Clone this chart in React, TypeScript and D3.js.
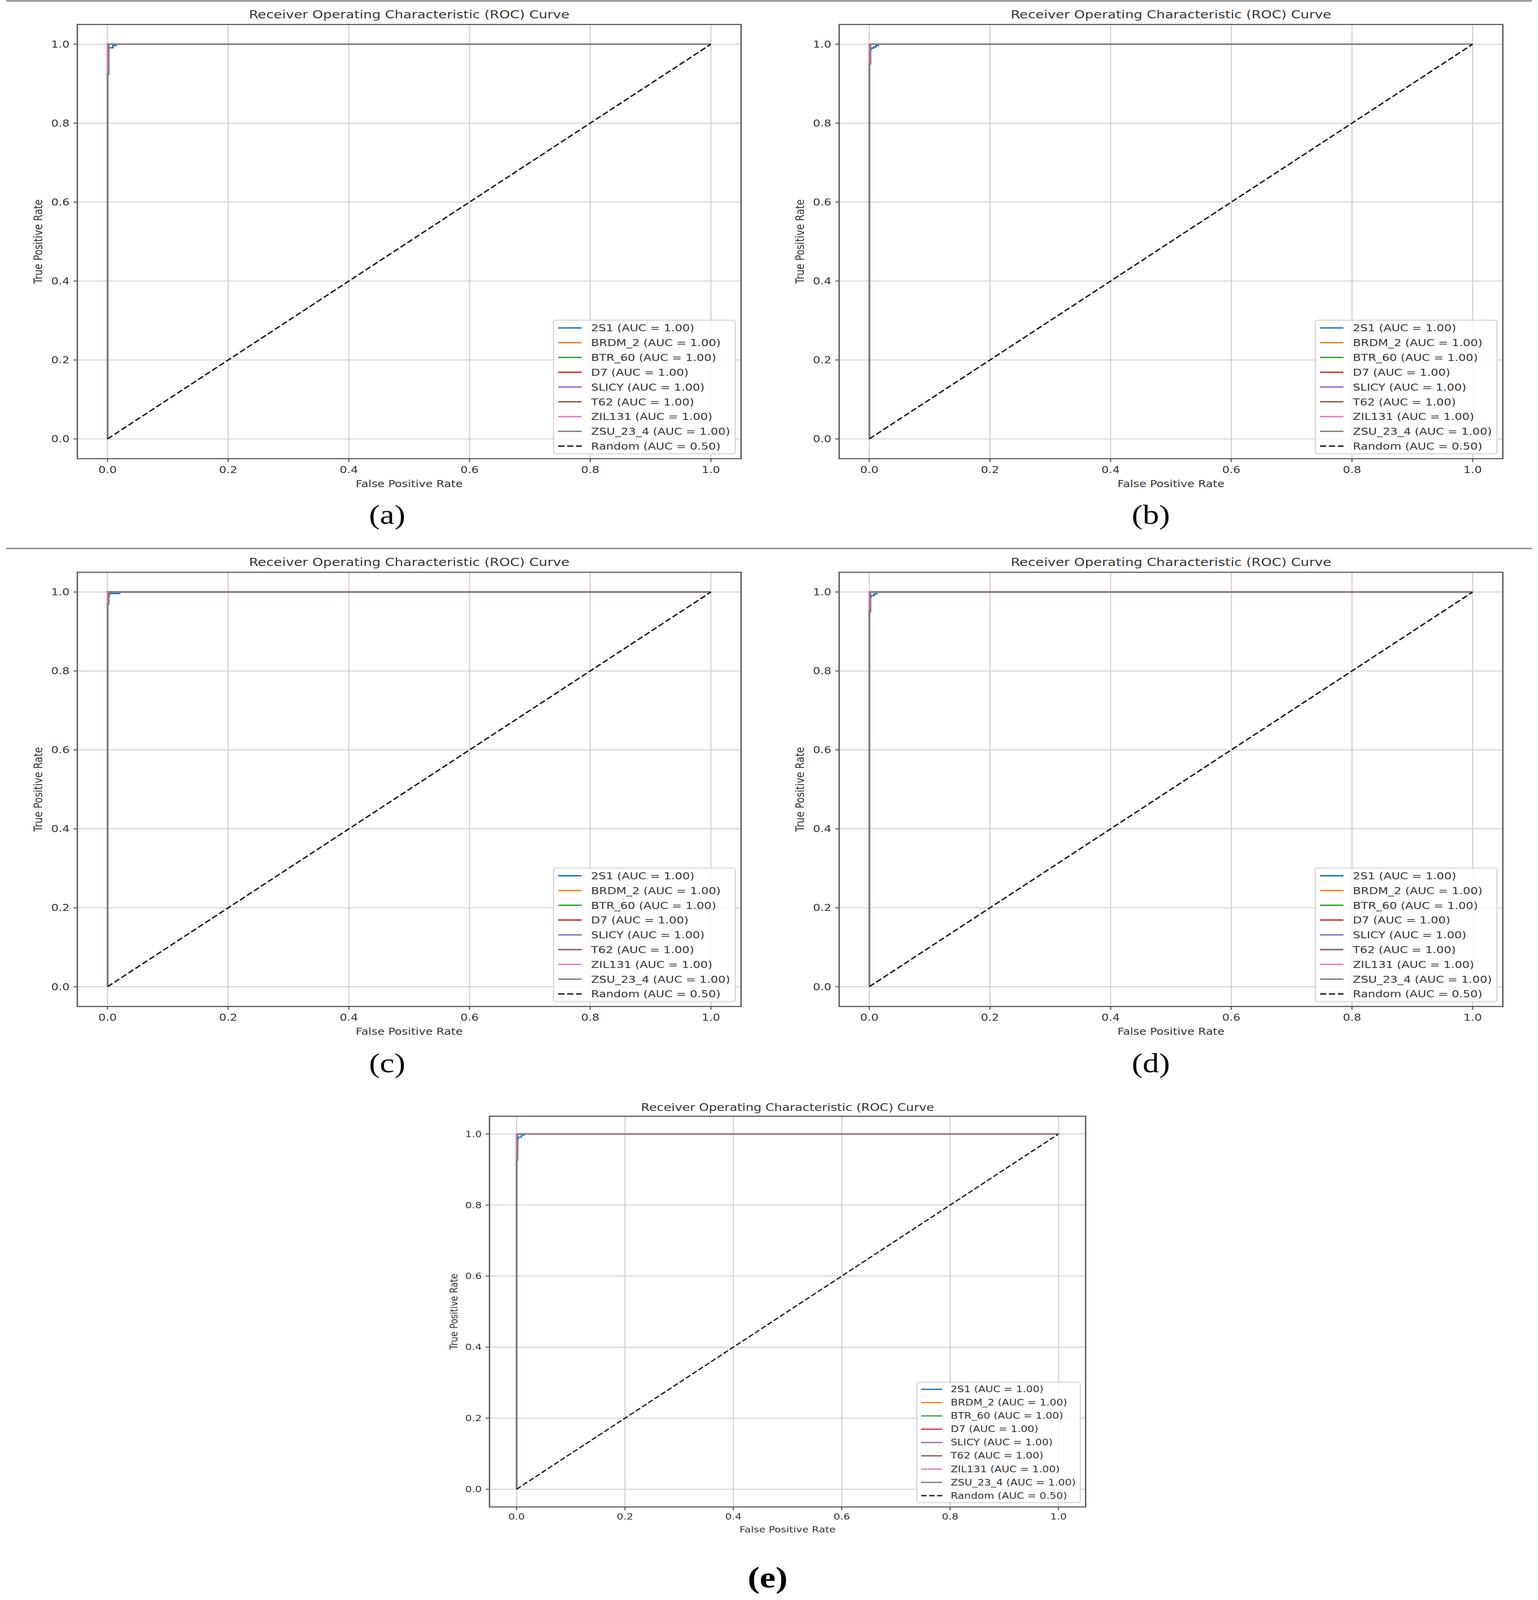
import React from "react";
import * as d3 from "d3";

// ---------- data ----------
const CLASSES = ["2S1", "BRDM_2", "BTR_60", "D7", "SLICY", "T62", "ZIL131", "ZSU_23_4"];
const COLORS = ["#1f77b4", "#ff7f0e", "#2ca02c", "#d62728", "#9467bd", "#8c564b", "#e377c2", "#7f7f7f"];
const AUC = ["1.00", "1.00", "1.00", "1.00", "1.00", "1.00", "1.00", "1.00"];
const RANDOM_NAME = "Random";
const RANDOM_AUC = "0.50";
const RANDOM_FPR = [0, 1];
const RANDOM_TPR = [0, 1];
const TICK_VALUES = [0, 0.2, 0.4, 0.6, 0.8, 1.0];
const TICK_LABELS = ["0.0", "0.2", "0.4", "0.6", "0.8", "1.0"];
const TITLE = "Receiver Operating Characteristic (ROC) Curve";
const X_LABEL = "False Positive Rate";
const Y_LABEL = "True Positive Rate";
const PANEL_LABELS = ["(a)", "(b)", "(c)", "(d)", "(e)"];

const P_FPR = [0, 0, 1];
const P_TPR = [0, 1, 1];

// panel (a)
const FPR_A = [
  [0, 0, 0.002, 0.002, 0.009, 0.009, 0.014, 0.014, 1],
  P_FPR, P_FPR, P_FPR, P_FPR, P_FPR, P_FPR,
  [0, 0, 0.002, 0.002, 1],
];
const TPR_A = [
  [0, 0.984, 0.984, 0.991, 0.991, 0.997, 0.997, 1, 1],
  P_TPR, P_TPR, P_TPR, P_TPR, P_TPR, P_TPR,
  [0, 0.924, 0.924, 1, 1],
];
// panel (b)
const FPR_B = [
  [0, 0, 0.003, 0.003, 0.007, 0.007, 0.011, 0.011, 0.015, 0.015, 1],
  P_FPR, P_FPR, P_FPR, P_FPR, P_FPR, P_FPR,
  [0, 0, 0.002, 0.002, 1],
];
const TPR_B = [
  [0, 0.986, 0.986, 0.99, 0.99, 0.993, 0.993, 0.997, 0.997, 1, 1],
  P_TPR, P_TPR, P_TPR, P_TPR, P_TPR, P_TPR,
  [0, 0.95, 0.95, 1, 1],
];
// panel (c)
const FPR_C = [
  [0, 0, 0.003, 0.003, 0.02, 0.02, 1],
  P_FPR, P_FPR, P_FPR, P_FPR, P_FPR, P_FPR,
  [0, 0, 0.002, 0.002, 1],
];
const TPR_C = [
  [0, 0.989, 0.989, 0.996, 0.996, 1, 1],
  P_TPR, P_TPR, P_TPR, P_TPR, P_TPR, P_TPR,
  [0, 0.97, 0.97, 1, 1],
];
// panel (d)
const FPR_D = [
  [0, 0, 0.003, 0.003, 0.008, 0.008, 0.012, 0.012, 1],
  P_FPR, P_FPR, P_FPR, P_FPR, P_FPR, P_FPR,
  [0, 0, 0.002, 0.002, 1],
];
const TPR_D = [
  [0, 0.987, 0.987, 0.991, 0.991, 0.995, 0.995, 1, 1],
  P_TPR, P_TPR, P_TPR, P_TPR, P_TPR, P_TPR,
  [0, 0.95, 0.95, 1, 1],
];
// panel (e)
const FPR_E = [
  [0, 0, 0.003, 0.003, 0.009, 0.009, 0.014, 0.014, 1],
  P_FPR, P_FPR, P_FPR, P_FPR, P_FPR, P_FPR,
  [0, 0, 0.002, 0.002, 1],
];
const TPR_E = [
  [0, 0.985, 0.985, 0.991, 0.991, 0.997, 0.997, 1, 1],
  P_TPR, P_TPR, P_TPR, P_TPR, P_TPR, P_TPR,
  [0, 0.927, 0.927, 1, 1],
];

// ---------- layout ----------
type Layout = {
  left: number; top: number; w: number; h: number;
  fs: number; lfs: number; tfs: number;
  xTickOff: number; xLabOff: number; yLabOff: number; titleOff: number;
  capX: number; capY: number; capSize: number; capBold: boolean;
};

const LAYOUTS: Layout[] = [
  { left: 198, top: 76, w: 1699, h: 1349, fs: 29.5, lfs: 30, tfs: 35, xTickOff: 34, xLabOff: 78, yLabOff: 100, titleOff: 19, capX: 991, capY: 1627, capSize: 84, capBold: false },
  { left: 2148, top: 76, w: 1699, h: 1349, fs: 29.5, lfs: 30, tfs: 35, xTickOff: 34, xLabOff: 78, yLabOff: 100, titleOff: 19, capX: 2946, capY: 1627, capSize: 84, capBold: false },
  { left: 198, top: 1778, w: 1699, h: 1349, fs: 29.5, lfs: 30, tfs: 35, xTickOff: 34, xLabOff: 78, yLabOff: 100, titleOff: 19, capX: 991, capY: 3331, capSize: 84, capBold: false },
  { left: 2148, top: 1778, w: 1699, h: 1349, fs: 29.5, lfs: 30, tfs: 35, xTickOff: 34, xLabOff: 78, yLabOff: 100, titleOff: 19, capX: 2946, capY: 3331, capSize: 84, capBold: false },
  { left: 1253, top: 3468, w: 1526, h: 1214, fs: 26.5, lfs: 27, tfs: 32, xTickOff: 30, xLabOff: 70, yLabOff: 91, titleOff: 17, capX: 1965, capY: 4932, capSize: 92, capBold: true },
];

const PANEL_FPR = [FPR_A, FPR_B, FPR_C, FPR_D, FPR_E];
const PANEL_TPR = [TPR_A, TPR_B, TPR_C, TPR_D, TPR_E];

const TEXT = "#353535";
const SPINE = "#5a5a5a";
const GRID = "#d2d2d2";
const SANS = "'DejaVu Sans', sans-serif";
const SERIF = "'Liberation Serif', 'Times New Roman', serif";

function Panel({ L, fpr, tpr, idx }: { L: Layout; fpr: number[][]; tpr: number[][]; idx: number }) {
  const x = d3.scaleLinear().domain([-0.05, 1.05]).range([L.left, L.left + L.w]);
  const y = d3.scaleLinear().domain([-0.05, 1.05]).range([L.top + L.h, L.top]);
  const line = d3.line<[number, number]>().x((d) => x(d[0])).y((d) => y(d[1]));
  const lw = L.fs * 0.145;
  const bottom = L.top + L.h;
  const right = L.left + L.w;
  const clipId = `clip-${idx}`;

  // legend geometry (matplotlib-like, in font units)
  const fs = L.lfs;
  const labels = CLASSES.map((c, i) => `${c} (AUC = ${AUC[i]})`).concat([`${RANDOM_NAME} (AUC = ${RANDOM_AUC})`]);
  const longest = d3.max(labels, (s) => s.length) ?? 21;
  const textW = (longest / 21) * 11.9 * fs;
  const boxW = fs * (0.4 + 2 + 0.8 + 0.4) + textW;
  const rowH = 1.53 * fs;
  const boxH = 1.6 * fs + rowH * (labels.length - 1);
  const boxR = right - 0.5 * fs;
  const boxB = bottom - 0.5 * fs;
  const boxL = boxR - boxW;
  const boxT = boxB - boxH;

  const dash = `${fs * 0.53} ${fs * 0.23}`;

  return (
    <g>
      <defs>
        <clipPath id={clipId}>
          <rect x={L.left} y={L.top} width={L.w} height={L.h} />
        </clipPath>
      </defs>
      {/* title */}
      <text x={(L.left + right) / 2} y={L.top - L.titleOff} textAnchor="middle" fontFamily={SANS} fontSize={L.tfs} fill={TEXT}>
        {TITLE}
      </text>
      {/* grid */}
      {TICK_VALUES.map((t) => (
        <line key={`gx${t}`} x1={x(t)} x2={x(t)} y1={L.top} y2={bottom} stroke={GRID} strokeWidth={3} />
      ))}
      {TICK_VALUES.map((t) => (
        <line key={`gy${t}`} x1={L.left} x2={right} y1={y(t)} y2={y(t)} stroke={GRID} strokeWidth={3} />
      ))}
      {/* curves */}
      <g clipPath={`url(#${clipId})`}>
        {CLASSES.map((c, i) => {
          const pts = fpr[i].map((f, k) => [f, tpr[i][k]] as [number, number]);
          return <path key={c} d={line(pts) ?? ""} fill="none" stroke={COLORS[i]} strokeWidth={lw} strokeLinejoin="miter" />;
        })}
        <path
          d={line(RANDOM_FPR.map((f, k) => [f, RANDOM_TPR[k]] as [number, number])) ?? ""}
          fill="none"
          stroke="#1a1a1a"
          strokeWidth={lw * 0.95}
          strokeDasharray={dash}
        />
      </g>
      {/* spines */}
      <rect x={L.left} y={L.top} width={L.w} height={L.h} fill="none" stroke={SPINE} strokeWidth={3.5} />
      {/* ticks */}
      {TICK_VALUES.map((t, i) => (
        <g key={`tx${t}`}>
          <line x1={x(t)} x2={x(t)} y1={bottom} y2={bottom + 10} stroke={SPINE} strokeWidth={3} />
          <text x={x(t)} y={bottom + L.xTickOff} textAnchor="middle" dominantBaseline="central" fontFamily={SANS} fontSize={L.fs} fill={TEXT}>
            {TICK_LABELS[i]}
          </text>
        </g>
      ))}
      {TICK_VALUES.map((t, i) => (
        <g key={`ty${t}`}>
          <line x1={L.left - 10} x2={L.left} y1={y(t)} y2={y(t)} stroke={SPINE} strokeWidth={3} />
          <text x={L.left - 20} y={y(t)} textAnchor="end" dominantBaseline="central" fontFamily={SANS} fontSize={L.fs} fill={TEXT}>
            {TICK_LABELS[i]}
          </text>
        </g>
      ))}
      {/* axis labels */}
      <text x={(L.left + right) / 2} y={bottom + L.xLabOff} textAnchor="middle" dominantBaseline="central" fontFamily={SANS} fontSize={L.fs} fill={TEXT}>
        {X_LABEL}
      </text>
      <text
        transform={`translate(${L.left - L.yLabOff},${(L.top + bottom) / 2}) rotate(-90)`}
        textAnchor="middle"
        dominantBaseline="central"
        fontFamily={SANS}
        fontSize={L.fs}
        fill={TEXT}
      >
        {Y_LABEL}
      </text>
      {/* legend */}
      <g>
        <rect x={boxL} y={boxT} width={boxW} height={boxH} rx={6} ry={6} fill="#ffffff" fillOpacity={0.8} stroke="#d4d4d4" strokeWidth={3} />
        {labels.map((lab, i) => {
          const cy = boxT + 0.8 * fs + i * rowH;
          const hx = boxL + 0.4 * fs;
          const isRandom = i === CLASSES.length;
          return (
            <g key={lab}>
              <line
                x1={hx}
                x2={hx + 2 * fs}
                y1={cy}
                y2={cy}
                stroke={isRandom ? "#1a1a1a" : COLORS[i]}
                strokeWidth={lw}
                strokeDasharray={isRandom ? dash : undefined}
              />
              <text x={hx + 2.8 * fs} y={cy} dominantBaseline="central" fontFamily={SANS} fontSize={fs} fill={TEXT}>
                {lab}
              </text>
            </g>
          );
        })}
      </g>
      {/* caption */}
      <text x={L.capX} y={L.capY} textAnchor="middle" fontFamily={SERIF} fontSize={L.capSize} fontWeight={L.capBold ? "bold" : "normal"} fill="#000">
        {PANEL_LABELS[idx]}
      </text>
    </g>
  );
}

export default function App() {
  const W = 3937;
  const H = 4971;
  return (
    <svg
      viewBox={`0 0 ${W} ${H}`}
      preserveAspectRatio="none"
      style={{ position: "absolute", left: 0, top: 0, width: "100vw", height: "100vh", display: "block", background: "#fff" }}
    >
      <rect x={0} y={0} width={W} height={H} fill="#fff" />
      <line x1={16} x2={3921} y1={3} y2={3} stroke="#808080" strokeWidth={4} />
      <line x1={16} x2={3921} y1={1704} y2={1704} stroke="#808080" strokeWidth={4} />
      {LAYOUTS.map((L, i) => (
        <Panel key={i} L={L} fpr={PANEL_FPR[i]} tpr={PANEL_TPR[i]} idx={i} />
      ))}
    </svg>
  );
}
